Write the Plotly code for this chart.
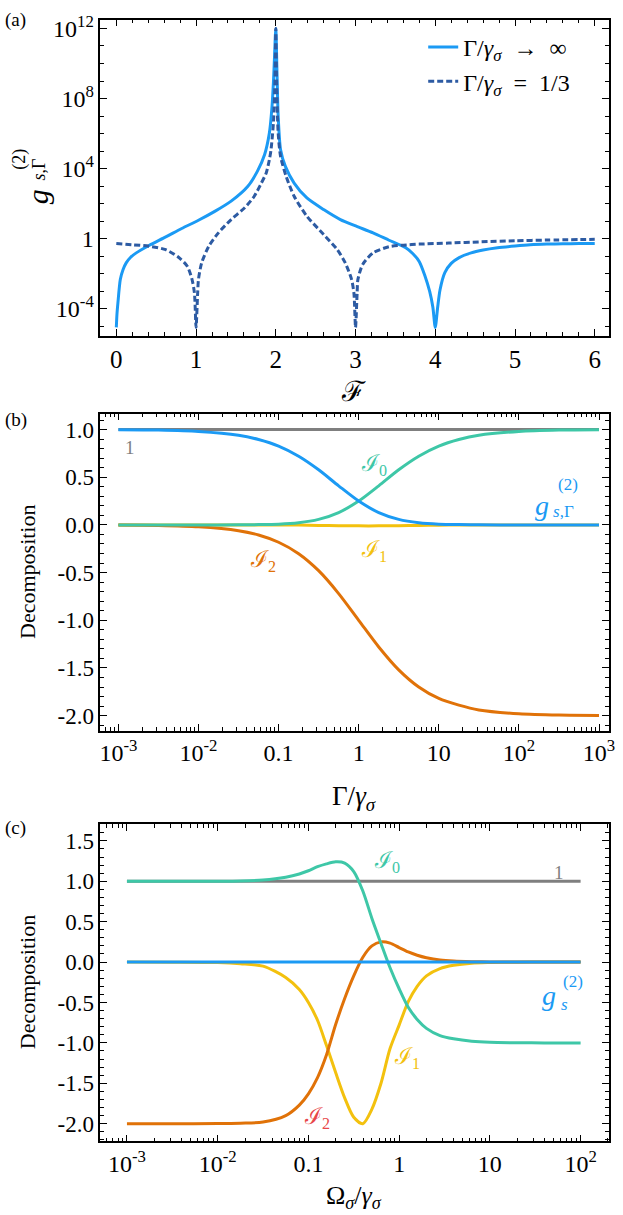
import plotly.graph_objects as go

# ---------------- Panel (a): g2 vs F (log10 of g) -------------
F_inf = [0.0, 0.008, 0.02, 0.05, 0.085, 0.124, 0.18, 0.25, 0.41, 0.62, 0.82, 1.03, 1.24,
         1.44, 1.65, 1.77, 1.86, 1.92, 1.95, 1.97, 1.985, 2.0, 2.015, 2.03, 2.06, 2.12,
         2.23, 2.39, 2.6, 2.81, 3.01, 3.22, 3.42, 3.63, 3.72, 3.8, 3.87, 3.93, 3.97, 4.0,
         4.03, 4.06, 4.12, 4.2, 4.3, 4.45, 4.6, 4.78, 5.0, 5.19, 5.4, 5.6, 5.8, 6.0]
log_g_inf = [-5.05, -4.3, -3.65, -2.32, -1.75, -1.37, -1.05, -0.80, -0.38, 0.11, 0.59,
             1.06, 1.58, 2.15, 3.0, 3.86, 4.81, 6.05, 7.38, 8.9, 10.5, 12.0, 9.5, 7.0,
             5.08, 4.13, 3.18, 2.33, 1.67, 1.10, 0.72, 0.34, -0.08, -0.51, -0.85, -1.3,
             -2.1, -3.0, -3.9, -5.05, -3.9, -2.9, -1.93, -1.4, -1.07, -0.80, -0.64, -0.51,
             -0.41, -0.34, -0.30, -0.28, -0.27, -0.26]

F_third = [0.0, 0.21, 0.41, 0.62, 0.78, 0.89, 0.95, 0.98, 1.0, 1.02, 1.03, 1.07, 1.16,
           1.28, 1.44, 1.61, 1.73, 1.81, 1.88, 1.92, 1.94, 1.97, 1.99, 2.0, 2.01, 2.03,
           2.06, 2.13, 2.23, 2.39, 2.6, 2.77, 2.87, 2.95, 2.98, 3.0, 3.02, 3.03, 3.09,
           3.22, 3.42, 3.6, 3.8, 4.17, 4.58, 5.0, 5.4, 6.0]
log_g_third = [-0.26, -0.34, -0.42, -0.62, -1.05, -1.56, -2.32, -3.1, -5.05, -3.1, -2.32,
               -1.37, -0.42, 0.34, 1.10, 1.77, 2.43, 3.10, 3.76, 4.52, 5.08, 6.6, 9.0,
               12.0, 9.0, 6.02, 4.7, 3.56, 2.43, 1.29, 0.25, -0.61, -1.36, -2.31, -3.1,
               -5.05, -3.1, -2.31, -1.46, -0.80, -0.45, -0.36, -0.30, -0.24, -0.17, -0.11,
               -0.07, -0.03]

F_ticks = [0, 1, 2, 3, 4, 5, 6]
g_tickvals = [1e-4, 1, 1e4, 1e8, 1e12]
g_ticktext = ["10<sup>-4</sup>", "1", "10<sup>4</sup>", "10<sup>8</sup>", "10<sup>12</sup>"]

# ---------------- Panel (b): decomposition vs Gamma/gamma_sigma -------------------------
gamma_ratio = [0.001, 0.00316, 0.01, 0.0316, 0.0562, 0.1, 0.178, 0.316, 0.562, 1.0,
               1.78, 3.16, 5.62, 10.0, 17.8, 31.6, 100.0, 316.0, 1000.0]
b_one = [1.0] * 19
b_g = [0.998, 0.994, 0.98, 0.94, 0.895, 0.826, 0.72, 0.578, 0.41, 0.25, 0.129, 0.058,
       0.023, 0.008, 0.003, 0.001, 0.0, 0.0, 0.0]
b_I0 = [0.0, 0.0, 0.0, 0.001, 0.003, 0.008, 0.023, 0.058, 0.129, 0.25, 0.41, 0.578, 0.72,
        0.826, 0.895, 0.94, 0.98, 0.994, 0.998]
b_I1 = [0.0, 0.0, 0.0, 0.0, 0.0, 0.0, -0.002, -0.005, -0.008, -0.01, -0.01, -0.008,
        -0.005, -0.003, -0.001, 0.0, 0.0, 0.0, 0.0]
b_I2 = [-0.002, -0.006, -0.02, -0.061, -0.106, -0.182, -0.302, -0.48, -0.72, -1.0, -1.28,
        -1.52, -1.70, -1.82, -1.89, -1.94, -1.98, -1.994, -1.998]

# ---------------- Panel (c): decomposition vs Omega_sigma/gamma_sigma -------------------
omega_ratio = [0.001, 0.00316, 0.01, 0.0178, 0.0316, 0.0562, 0.0794, 0.1, 0.126, 0.158,
               0.2, 0.251, 0.316, 0.398, 0.501, 0.631, 0.794, 1.0, 1.26, 1.58, 2.0, 2.82,
               3.98, 6.31, 10.0, 20.0, 39.8, 100.0]
c_one = [1.0] * 28
c_g = [0.0] * 28
c_I0 = [1.0, 1.0, 1.0, 1.003, 1.015, 1.05, 1.09, 1.13, 1.18, 1.215, 1.24, 1.225, 1.12,
        0.88, 0.54, 0.23, -0.07, -0.33, -0.56, -0.71, -0.82, -0.91, -0.95, -0.98, -0.993,
        -0.998, -1.0, -1.0]
c_I1 = [0.0, -0.001, -0.006, -0.02, -0.05, -0.19, -0.34, -0.50, -0.72, -1.03, -1.37,
        -1.68, -1.92, -2.0, -1.82, -1.50, -1.07, -0.78, -0.49, -0.30, -0.17, -0.08, -0.04,
        -0.013, -0.005, -0.001, 0.0, 0.0]
c_I2 = [-2.0, -2.0, -1.998, -1.993, -1.98, -1.90, -1.77, -1.63, -1.43, -1.15, -0.77,
        -0.45, -0.17, 0.06, 0.20, 0.25, 0.235, 0.18, 0.125, 0.085, 0.054, 0.025, 0.012,
        0.005, 0.002, 0.0, 0.0, 0.0]

log_tickvals_b = [1e-3, 1e-2, 0.1, 1, 10, 100, 1000]
log_ticktext_b = ["10<sup>-3</sup>", "10<sup>-2</sup>", "0.1", "1", "10",
                  "10<sup>2</sup>", "10<sup>3</sup>"]
log_tickvals_c = [1e-3, 1e-2, 0.1, 1, 10, 100]
log_ticktext_c = ["10<sup>-3</sup>", "10<sup>-2</sup>", "0.1", "1", "10", "10<sup>2</sup>"]
dec_tickvals = [-2.0, -1.5, -1.0, -0.5, 0.0, 0.5, 1.0, 1.5]
dec_ticktext = ["-2.0", "-1.5", "-1.0", "-0.5", "0.0", "0.5", "1.0", "1.5"]

# ---------------- styling ----------------------------------------------------------
BLUE = "#1b9af4"
DARKBLUE = "#2d5ba3"
TEAL = "#3ec7a7"
ORANGE = "#e07208"
YELLOW = "#f3c10e"
GRAY = "#7f7f7f"
RED = "#e8474a"
SERIF = "Liberation Serif, Times New Roman, DejaVu Serif, serif"
W, H = 623, 1215
NB2 = "\u00a0\u00a0"

fig = go.Figure()

# Panel (a)
fig.add_trace(go.Scatter(x=F_inf, y=[10 ** v for v in log_g_inf], mode="lines",
                         line=dict(color=BLUE, width=3, shape="spline", smoothing=0.7),
                         name="Γ/<i>γ<sub>σ</sub></i>" + NB2 + "→" + NB2 + "∞",
                         xaxis="x", yaxis="y", showlegend=True))
fig.add_trace(go.Scatter(x=F_third, y=[10 ** v for v in log_g_third], mode="lines",
                         line=dict(color=DARKBLUE, width=3, dash="6px,3px",
                                   shape="spline", smoothing=0.7),
                         name="Γ/<i>γ<sub>σ</sub></i>" + NB2 + "=" + NB2 + "1/3",
                         xaxis="x", yaxis="y", showlegend=True))

# Panel (b)
for ys, col in [(b_one, GRAY), (b_I1, YELLOW), (b_I2, ORANGE), (b_I0, TEAL), (b_g, BLUE)]:
    fig.add_trace(go.Scatter(x=gamma_ratio, y=ys, mode="lines",
                             line=dict(color=col, width=3, shape="spline", smoothing=0.8),
                             xaxis="x2", yaxis="y2", showlegend=False))

# Panel (c)
for ys, col in [(c_one, GRAY), (c_I1, YELLOW), (c_I2, ORANGE), (c_I0, TEAL), (c_g, BLUE)]:
    fig.add_trace(go.Scatter(x=omega_ratio, y=ys, mode="lines",
                             line=dict(color=col, width=3, shape="spline", smoothing=0.8),
                             xaxis="x3", yaxis="y3", showlegend=False))


def px_x(p):
    return p / W


def px_y(p):
    return 1 - p / H


def tf(size):
    return dict(family=SERIF, size=size, color="black")


def axis(**kw):
    d = dict(showline=True, linecolor="black", linewidth=1.5, mirror="allticks",
             ticks="inside", ticklen=7, tickwidth=1, tickcolor="black",
             showgrid=False, zeroline=False, ticklabeloverflow="allow",
             tickfont=tf(23))
    d.update(kw)
    return d


def minor(**kw):
    d = dict(ticks="inside", ticklen=4, tickwidth=1, tickcolor="black", showgrid=False)
    d.update(kw)
    return d


def log_minor(lo, hi):
    vals = []
    for e in range(lo, hi + 1):
        for k in range(2, 10):
            vals.append(k * 10.0 ** e)
    return vals


xdom = [px_x(100.5), px_x(615)]

layout = dict(
    width=W, height=H, margin=dict(l=0, r=0, t=0, b=0),
    paper_bgcolor="white", plot_bgcolor="white",
    font=dict(family=SERIF, color="black"),
    showlegend=True,
    legend=dict(x=px_x(427), y=px_y(17), xanchor="left", yanchor="top",
                bgcolor="rgba(0,0,0,0)", font=tf(24),
                itemwidth=30, tracegroupgap=0),
    xaxis=axis(domain=xdom, anchor="y", range=[-0.2, 6.18], tickmode="array",
               tickvals=F_ticks, ticktext=[str(v) for v in F_ticks], tickfont=tf(25),
               minor=minor(tickmode="linear", tick0=0, dtick=0.2)),
    yaxis=axis(domain=[px_y(330), px_y(11.7)], anchor="x", type="log",
               range=[-5.53, 12.5], tickmode="array", tickvals=g_tickvals,
               ticktext=g_ticktext, tickfont=tf(24),
               minor=minor(tickmode="array",
                           tickvals=[10.0 ** e for e in range(-5, 13) if e % 4 != 0])),
    xaxis2=axis(domain=xdom, anchor="y2", type="log", range=[-3.225, 3.126],
                tickmode="array", tickvals=log_tickvals_b, ticktext=log_ticktext_b,
                tickfont=tf(24),
                minor=minor(tickmode="array", tickvals=log_minor(-4, 3))),
    yaxis2=axis(domain=[px_y(727.7), px_y(408.3)], anchor="x2", range=[-2.16, 1.167],
                tickmode="array", tickvals=dec_tickvals, ticktext=dec_ticktext,
                minor=minor(tickmode="linear", tick0=0, dtick=0.1)),
    xaxis3=axis(domain=xdom, anchor="y3", type="log", range=[-3.293, 2.314],
                tickmode="array", tickvals=log_tickvals_c, ticktext=log_ticktext_c,
                tickfont=tf(24),
                minor=minor(tickmode="array", tickvals=log_minor(-4, 2))),
    yaxis3=axis(domain=[px_y(1141), px_y(821.7)], anchor="x3", range=[-2.22, 1.705],
                tickmode="array", tickvals=dec_tickvals, ticktext=dec_ticktext,
                minor=minor(tickmode="linear", tick0=0, dtick=0.1)),
)
fig.update_layout(**layout)

annots = []


def ann(text, x, y, size=20, color="black", angle=0, xanchor="center", family=SERIF):
    annots.append(dict(text=text, x=px_x(x), y=px_y(y), xref="paper", yref="paper",
                       showarrow=False, xanchor=xanchor, yanchor="middle",
                       textangle=angle, font=dict(family=family, size=size, color=color)))


# panel letters
ann("(a)", 15, 12, 19)
ann("(b)", 15, 415, 19)
ann("(c)", 15, 825, 19)

# panel (a) axis titles
ann("<i>g</i>", 37, 190, 30, angle=-90)
ann("(2)", 19, 152, 18, angle=-90)
ann("<i>s</i>,Γ", 38, 163, 18, angle=-90)
ann("ℱ", 357, 386, 28)

# panel (b) titles & labels
ann("Decomposition", 27, 568, 22, angle=-90)
ann("Γ/<i>γ</i><sub><i>σ</i></sub>", 357, 795, 27)
ann("1", 130, 442, 19, GRAY)
ann("ℐ<sub>0</sub>", 377, 460, 23, TEAL)
ann("ℐ<sub>1</sub>", 377, 547, 23, YELLOW)
ann("ℐ<sub>2</sub>", 265, 557, 23, ORANGE)
ann("<i>g</i>", 547, 501, 28, BLUE)
ann("(2)", 573, 480, 17, BLUE)
ann("<i>s</i>,Γ", 556, 507, 17, BLUE, xanchor="left")

# panel (c) titles & labels
ann("Decomposition", 27, 981, 22, angle=-90)
ann("Ω<sub><i>σ</i></sub>/<i>γ</i><sub><i>σ</i></sub>", 357, 1197, 26)
ann("1", 564, 870, 19, GRAY)
ann("ℐ<sub>0</sub>", 390, 860, 23, TEAL)
ann("ℐ<sub>1</sub>", 411, 1057, 23, YELLOW)
ann("ℐ<sub>2</sub>", 320, 1117, 23, RED)
ann("<i>g</i>", 554, 994, 28, BLUE)
ann("(2)", 579, 980, 17, BLUE)
ann("<i>s</i>", 564, 1003, 17, BLUE, xanchor="left")

fig.update_layout(annotations=annots)
fig.write_html("out.html", config={"displayModeBar": False},
               post_script="document.body.style.margin='0';document.body.style.overflow='hidden';")
